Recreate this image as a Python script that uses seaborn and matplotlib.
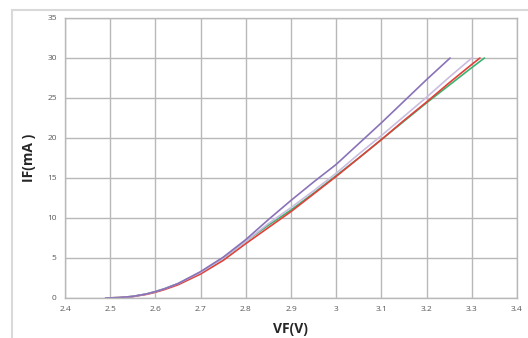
import matplotlib
matplotlib.use("Agg")
import matplotlib.pyplot as plt
import seaborn as sns
import pandas as pd
from matplotlib.patches import Rectangle

# Data
vf_purple = [2.49, 2.52, 2.55, 2.58, 2.60, 2.62, 2.65, 2.70, 2.75, 2.80, 2.85, 2.90, 2.95, 3.00, 3.05, 3.10, 3.15, 3.20, 3.252]
if_purple = [0.0, 0.05, 0.2, 0.5, 0.8, 1.15, 1.8, 3.3, 5.1, 7.3, 9.8, 12.2, 14.5, 16.7, 19.3, 21.9, 24.6, 27.3, 30.0]

vf_lilac = [2.49, 2.52, 2.55, 2.58, 2.60, 2.62, 2.65, 2.70, 2.75, 2.80, 2.85, 2.90, 2.95, 3.00, 3.05, 3.10, 3.15, 3.20, 3.25, 3.30]
if_lilac = [0.0, 0.05, 0.2, 0.5, 0.8, 1.15, 1.8, 3.2, 5.0, 7.1, 9.3, 11.3, 13.4, 15.6, 18.0, 20.3, 22.7, 25.1, 27.6, 30.0]

vf_red = [2.49, 2.52, 2.55, 2.58, 2.60, 2.62, 2.65, 2.70, 2.75, 2.80, 2.85, 2.90, 2.95, 3.00, 3.05, 3.10, 3.15, 3.20, 3.25, 3.30, 3.318]
if_red = [0.0, 0.05, 0.18, 0.45, 0.72, 1.05, 1.65, 3.0, 4.7, 6.8, 8.8, 10.8, 13.0, 15.2, 17.5, 19.8, 22.2, 24.5, 26.9, 29.2, 30.0]

vf_green = [2.49, 2.52, 2.55, 2.58, 2.60, 2.62, 2.65, 2.70, 2.75, 2.80, 2.85, 2.90, 2.95, 3.00, 3.05, 3.10, 3.15, 3.20, 3.25, 3.30, 3.328]
if_green = [0.0, 0.05, 0.2, 0.5, 0.8, 1.15, 1.8, 3.2, 5.0, 7.1, 9.1, 11.0, 13.1, 15.3, 17.5, 19.8, 22.1, 24.4, 26.6, 28.8, 30.0]

series_names = ["A", "B", "C", "D"]
series_colors = ["#8a72b8", "#c9bde0", "#e0403a", "#3cb371"]

x_ticks = [2.4, 2.5, 2.6, 2.7, 2.8, 2.9, 3.0, 3.1, 3.2, 3.3, 3.4]
x_tick_labels = ["2.4", "2.5", "2.6", "2.7", "2.8", "2.9", "3", "3.1", "3.2", "3.3", "3.4"]
y_ticks = [0, 5, 10, 15, 20, 25, 30, 35]

frames = []
for name, vx, iy in zip(series_names,
                        [vf_purple, vf_lilac, vf_red, vf_green],
                        [if_purple, if_lilac, if_red, if_green]):
    frames.append(pd.DataFrame({"VF": vx, "IF": iy, "s": name}))
df = pd.concat(frames, ignore_index=True)

sns.set_style("white")
plt.rcParams["font.family"] = ["Open Sans", "DejaVu Sans"]

fig = plt.figure(figsize=(5.28, 3.38), dpi=100)
fig.patch.set_facecolor("white")
fig.patches.append(Rectangle((12 / 528, -0.1), 1.2, 1 - 10 / 338 + 0.1,
                             transform=fig.transFigure, fill=False,
                             edgecolor="#d9d9d9", linewidth=1.5))

ax = fig.add_axes([65 / 528, 1 - 298 / 338, (517 - 65) / 528, (298 - 18) / 338])

# draw order: green, red, lilac, purple (purple on top)
order = ["D", "C", "B", "A"]
pal = dict(zip(series_names, series_colors))
for s in order:
    sns.lineplot(data=df[df["s"] == s], x="VF", y="IF", color=pal[s],
                 linewidth=1.2, ax=ax, sort=False, estimator=None)

ax.set_xlim(2.4, 3.4)
ax.set_ylim(0, 35)
ax.set_xticks(x_ticks)
ax.set_xticklabels(x_tick_labels)
ax.set_yticks(y_ticks)
ax.grid(True, color="#b8b8b8", linewidth=1.0)
ax.set_axisbelow(True)
for sp in ax.spines.values():
    sp.set_color("#b8b8b8")
    sp.set_linewidth(1.0)
ax.tick_params(axis="both", labelsize=6, colors="#595959", length=0, pad=6)
ax.set_xlabel("VF(V)", fontsize=10, fontweight="bold", color="#262626", labelpad=3)
ax.set_ylabel("IF(mA )", fontsize=10, fontweight="bold", color="#262626", labelpad=8)
ax.xaxis.set_label_coords((290 - 65) / 452, -0.085)

fig.savefig("out.png", dpi=100)
